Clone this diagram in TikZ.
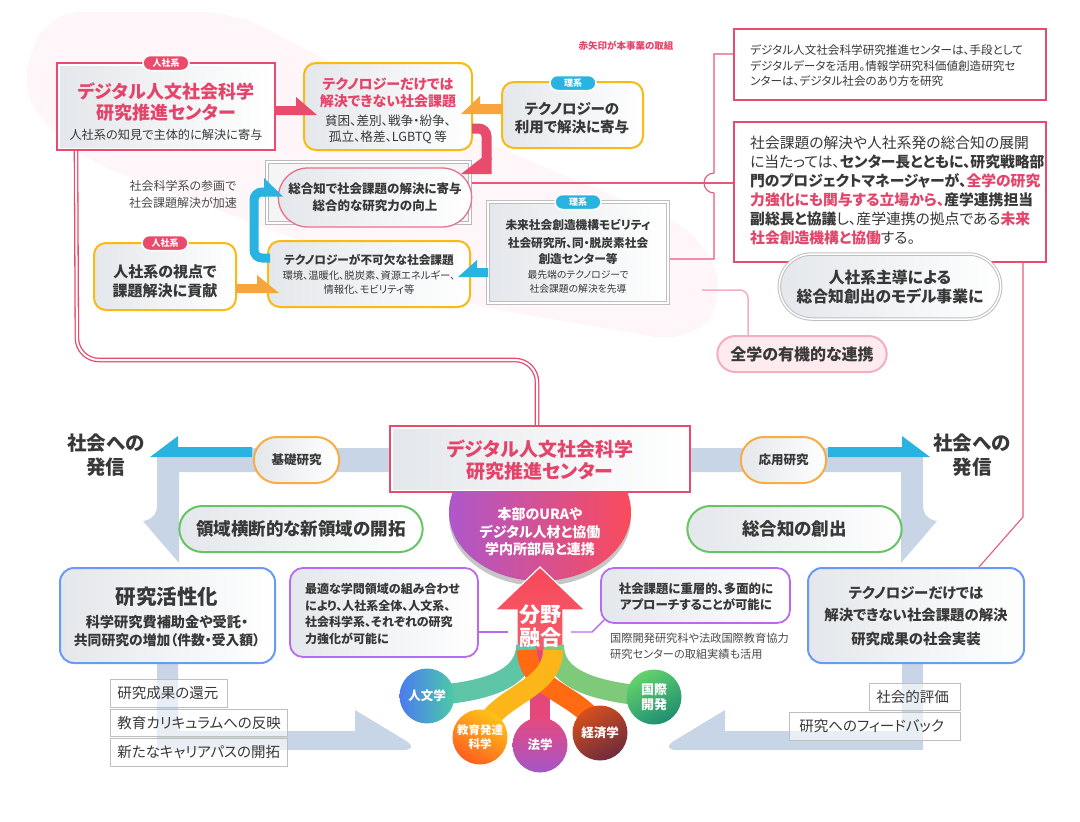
\documentclass[tikz,border=0pt]{standalone}
\usepackage{fontspec}
\setmainfont{Noto Sans CJK JP}[RawFeature=+palt]
\usetikzlibrary{calc,shapes.misc}
\definecolor{hred}{HTML}{E94B6C}
\definecolor{hredtxt}{HTML}{E5446A}
\definecolor{hyel}{HTML}{FBB913}
\definecolor{horg}{HTML}{F9A53E}
\definecolor{hblue}{HTML}{29B3E1}
\definecolor{hgreen}{HTML}{66C466}
\definecolor{hpurp}{HTML}{B86BF0}
\definecolor{hbbox}{HTML}{6A9BF4}
\definecolor{bandc}{HTML}{C8D5E6}
\definecolor{dtext}{HTML}{383838}
\definecolor{gtext}{HTML}{4A4A4A}
\definecolor{pinkln}{HTML}{E8577A}
\definecolor{paleln}{HTML}{F4AFBE}
\definecolor{gfill}{HTML}{E4E7EB}
\definecolor{swoosh}{HTML}{FEF6F8}
\definecolor{pillpink}{HTML}{FDEBEF}
\definecolor{opill}{HTML}{F7AC45}
\definecolor{nmag}{HTML}{AE57CB}
\definecolor{nred}{HTML}{FA4B5B}
\definecolor{ored}{HTML}{F9475A}
\definecolor{ored2}{HTML}{F2606C}
\definecolor{ribteal}{HTML}{5EC5A6}
\definecolor{ribgreen}{HTML}{7FC97A}
\definecolor{riborg}{HTML}{FF6A12}
\definecolor{ribyel}{HTML}{FDB61A}
\definecolor{ribpink}{HTML}{E4487A}
\definecolor{cjinA}{HTML}{4A7BF2}
\definecolor{cjinB}{HTML}{4CCBA5}
\definecolor{ckyoA}{HTML}{FF5E1F}
\definecolor{ckyoB}{HTML}{FFC318}
\definecolor{chouA}{HTML}{E64A7E}
\definecolor{chouB}{HTML}{A455C8}
\definecolor{ckeiA}{HTML}{D4501C}
\definecolor{ckeiB}{HTML}{6E2B3D}
\definecolor{ckokA}{HTML}{63D36C}
\definecolor{ckokB}{HTML}{1F8E72}
\newcommand\myfs[2]{\fontsize{#1}{#2}\selectfont}
\pgfdeclarelayer{back}
\pgfsetlayers{back,main}
\begin{document}
\begin{tikzpicture}[x=1pt,y=-1pt,
  txt/.style={inner sep=0pt, align=center, text=dtext},
  grad/.style={left color=gfill, right color=white},
  ybox/.style={draw=hyel, line width=2pt, rounded corners=12pt, grad},
  bbox/.style={draw=hbbox, line width=2pt, rounded corners=14pt, grad},
  pbox/.style={draw=hpurp, line width=1.8pt, rounded corners=13pt, grad},
  rbox/.style={draw=hred, line width=2pt, fill=white},
  gpill/.style={rounded rectangle, draw=hgreen, line width=2pt, grad, minimum height=46pt, font=\myfs{17.5}{18}\bfseries, text=dtext},
  opillst/.style={rounded rectangle, draw=opill, line width=2pt, grad, minimum height=46pt, minimum width=92pt, font=\myfs{12.5}{13}\bfseries, text=dtext},
  tagst/.style={rounded rectangle, draw=white, line width=1.5pt, text=white, font=\myfs{9}{9}\bfseries, minimum height=15pt, minimum width=46pt, inner sep=0pt},
  lbox/.style={draw=gray!50, line width=0.8pt, fill=white, fill opacity=0.6, text opacity=1, draw opacity=1, font=\myfs{14.5}{14.5}, text=dtext, inner xsep=7pt, anchor=west, align=left, minimum height=27.5pt},
  pl/.style={draw=pinkln, line width=1.1pt},
  purp/.style={draw=hpurp, line width=1.4pt},
  circ/.style={circle, minimum size=55pt, inner sep=0pt, text=white, font=\myfs{12.5}{14}\bfseries, align=center},
  rib/.style={line width=20pt, line cap=butt},
]
\useasboundingbox (0,0) rectangle (1080,822);

% ---------- background swoosh
\begin{pgfonlayer}{back}
\fill[swoosh, rounded corners=35pt] (18,95) -- (45,12) -- (235,12) -- (480,140) -- (700,232) -- (728,300) -- (690,343) -- (470,305) -- (80,158) -- cycle;
\end{pgfonlayer}

% ---------- grey bands and blue half arrows
\fill[bandc] (392,448) -- (252,448) -- (252,457) -- (157,457) [rounded corners=15pt] -- (157,521) [sharp corners] -- (143,521) -- (179,563) -- (179,472) -- (392,472) -- cycle;
\fill[bandc] (688,448) -- (828,448) -- (828,457) -- (923,457) [rounded corners=15pt] -- (923,521) [sharp corners] -- (937,521) -- (901,563) -- (901,472) -- (688,472) -- cycle;
\fill[hblue] (252,447) -- (178,447) -- (178,436) -- (150,457) -- (252,457) -- cycle;
\fill[hblue] (828,447) -- (902,447) -- (902,436) -- (930,457) -- (828,457) -- cycle;
\fill[bandc] (157,655) -- (157,750) [rounded corners=18pt] -- (421,750) [sharp corners] -- (355,710) -- (355,731) -- (178,731) -- (178,655) -- cycle;
\fill[bandc] (923,655) -- (923,750) [rounded corners=18pt] -- (659,750) [sharp corners] -- (725,710) -- (725,731) -- (902,731) -- (902,655) -- cycle;

% ---------- top-left red box
\node[rbox, minimum width=218pt, minimum height=87pt] (A) at (166,106.5) {};
\fill[grad] ($(A.south west)+(4,-4)$) rectangle ($(A.north east)+(-4,4)$);
\node[txt, font=\myfs{18}{18}\bfseries, text=hredtxt] (At1) at (166,91) {デジタル人文社会科学};
\node[txt, font=\myfs{18}{18}\bfseries, text=hredtxt] (At2) at (166,113) {研究推進センター};
\node[txt, font=\myfs{12.2}{12}] (At3) at (166,135) {人社系の知見で主体的に解決に寄与};
\node[tagst, fill=hred] (Atag) at (166,63) {人社系};

% ---------- yellow box B
\node[ybox, minimum width=168pt, minimum height=87pt] (B) at (388,106.5) {};
\node[txt, font=\myfs{14}{14}\bfseries, text=hredtxt] (Bt1) at (388,84) {テクノロジーだけでは};
\node[txt, font=\myfs{14}{14}\bfseries, text=hredtxt] (Bt2) at (388,101) {解決できない社会課題};
\node[txt, font=\myfs{12.6}{13}] (Bt3) at (388,121) {貧困、差別、戦争・紛争、};
\node[txt, font=\myfs{12.6}{13}] (Bt4) at (388,137) {孤立、格差、LGBTQ 等};

% ---------- yellow box C
\node[ybox, minimum width=141pt, minimum height=66pt] (C) at (572.5,115) {};
\node[txt, font=\myfs{14.5}{15}\bfseries] (Ct1) at (572,109) {テクノロジーの};
\node[txt, font=\myfs{14.5}{15}\bfseries] (Ct2) at (572,127) {利用で解決に寄与};
\node[tagst, fill=hblue] (Ctag) at (573,83) {理系};

% ---------- D
\node[draw=gray!55, line width=1pt, double=white, double distance=1.2pt, fill=gray!8, minimum width=203pt, minimum height=61pt] (D) at (368.5,192.5) {};
\node[rounded rectangle, draw=pinkln!85, line width=1.3pt, grad, minimum width=200pt, minimum height=59pt] (Dp) at (375,197.5) {};
\node[txt, font=\myfs{12.5}{13}\bfseries] (Dt1) at (375,189) {総合知で社会課題の解決に寄与};
\node[txt, font=\myfs{12.5}{13}\bfseries] (Dt2) at (375,206) {総合的な研究力の向上};

\node[txt, font=\myfs{12}{17}, text=gtext] (Et) at (183,194.5) {社会科学系の参画で\\社会課題解決が加速};

% ---------- F
\node[ybox, minimum width=202pt, minimum height=66pt] (F) at (369,274) {};
\node[txt, font=\myfs{11.7}{12}\bfseries] (Ft1) at (369,260) {テクノロジーが不可欠な社会課題};
\node[txt, font=\myfs{10.3}{10}] (Ft2) at (369,276) {環境、温暖化、脱炭素、資源エネルギー、};
\node[txt, font=\myfs{10.3}{10}] (Ft3) at (369,290) {情報化、モビリティ等};

% ---------- G
\node[ybox, minimum width=142pt, minimum height=67pt] (G) at (165,276.5) {};
\node[txt, font=\myfs{15}{15}\bfseries] (Gt1) at (165,272) {人社系の視点で};
\node[txt, font=\myfs{15}{15}\bfseries] (Gt2) at (165,291) {課題解決に貢献};
\node[tagst, fill=hred] (Gtag) at (165,243) {人社系};

% ---------- H
\node[draw=gray!50, line width=1pt, double=white, double distance=1.2pt, grad, minimum width=180pt, minimum height=101pt] (H) at (578,252.5) {};
\node[txt, font=\myfs{11.7}{12}\bfseries] (Ht1) at (578,225) {未来社会創造機構モビリティ};
\node[txt, font=\myfs{11.7}{12}\bfseries] (Ht2) at (578,243) {社会研究所、同・脱炭素社会};
\node[txt, font=\myfs{11.7}{12}\bfseries] (Ht3) at (578,259) {創造センター等};
\node[txt, font=\myfs{9.8}{10}] (Ht4) at (578,275) {最先端のテクノロジーで};
\node[txt, font=\myfs{9.8}{10}] (Ht5) at (578,289) {社会課題の解決を先導};
\node[tagst, fill=hblue] (Htag) at (578,202) {理系};

% ---------- right column
\node[txt, font=\myfs{9.5}{10}\bfseries, text=hredtxt] (Rn) at (626,46) {赤矢印が本事業の取組};
\node[rbox, minimum width=312pt, minimum height=71pt] (I) at (890,64.5) {};
\node[txt, anchor=west, align=left, font=\myfs{11.6}{15.5}] (It) at (750,66) {デジタル人文社会科学研究推進センターは、手段として\\デジタルデータを活用。情報学研究科価値創造研究セ\\ンターは、デジタル社会のあり方を研究};
\node[rbox, minimum width=312pt, minimum height=140pt] (J) at (890,192) {};
\node[txt, anchor=west, align=left, font=\myfs{14.8}{19}] (Jt) at (750,190.5) {社会課題の解決や人社系発の総合知の展開\\に当たっては、{\bfseries センター長とともに、研究戦略部}\\{\bfseries 門のプロジェクトマネージャーが、\color{hredtxt}全学の研究}\\{\bfseries\color{hredtxt}力強化にも関与する立場から、\color{dtext}産学連携担当}\\{\bfseries 副総長と協議}し、産学連携の拠点である{\bfseries\color{hredtxt}未来}\\{\bfseries\color{hredtxt}社会創造機構と協働}する。};
\node[rounded rectangle, draw=gray!50, line width=1pt, double=white, double distance=1.5pt, grad, minimum width=228pt, minimum height=65pt] (K) at (890,286.5) {};
\node[txt, font=\myfs{15.8}{19}\bfseries] (Kt) at (890,287) {人社系主導による\\総合知創出のモデル事業に};
\node[rounded rectangle, draw=paleln, line width=2pt, fill=pillpink, minimum width=176pt, minimum height=36pt, font=\myfs{16}{16}\bfseries, text=dtext] (L) at (802,354) {全学の有機的な連携};

% ---------- center box M
\node[rbox, minimum width=300pt, minimum height=66pt] (M) at (540,459) {};
\fill[grad] ($(M.south west)+(4,-4)$) rectangle ($(M.north east)+(-4,4)$);
\node[txt, font=\myfs{19}{19}\bfseries, text=hredtxt] (Mt1) at (540,449) {デジタル人文社会科学};
\node[txt, font=\myfs{19}{19}\bfseries, text=hredtxt] (Mt2) at (540,471) {研究推進センター};

% ---------- pills on bands
\node[opillst] (Kiso) at (296.5,460) {基礎研究};
\node[opillst] (Oyo) at (783.5,460) {応用研究};
\node[txt, font=\myfs{19.5}{24}\bfseries] (Hl) at (106,455) {社会への\\発信};
\node[txt, font=\myfs{19.5}{24}\bfseries] (Hr) at (972,455) {社会への\\発信};
\node[gpill, minimum width=250pt] (Ryo) at (301,529) {領域横断的な新領域の開拓};
\node[gpill, minimum width=221pt] (Sou) at (794.5,529) {総合知の創出};

% ---------- magenta bowl N
\begin{scope}
\clip (430,492) rectangle (650,600);
\fill[gray!45] (540,517) ellipse [x radius=91, y radius=69];
\shade[left color=nmag, right color=nred] (540,512) ellipse [x radius=91, y radius=69];
\end{scope}
\node[txt, text=white, font=\myfs{14}{17.5}\bfseries] (Nt) at (540,532) {本部のURAや\\デジタル人材と協働\\学内所部局と連携};

% ---------- up arrow and ribbons
\shade[top color=ored, bottom color=ored2, draw=white, line width=1.2pt] (540,567) -- (585,610) -- (563,610) -- (563,655) -- (517,655) -- (517,610) -- (495,610) -- cycle;
\draw[rib, ribgreen] (654,697) .. controls (600,692) and (554,682) .. (554,645);
\draw[rib, ribteal] (427,696) .. controls (480,692) and (526,682) .. (526,645);
\draw[rib, ribpink] (540,650) -- (540,745);
\draw[rib, riborg] (600,733) .. controls (588,695) and (527,692) .. (527,650);
\draw[rib, ribyel] (480,737) .. controls (492,695) and (553,692) .. (553,650);
\node[txt, text=white, font=\myfs{21}{23}\bfseries] (Ot) at (540,626) {分野\\融合};

\node[circ, left color=cjinA, right color=cjinB] (Jin) at (427,696) {人文学};
\node[circ, top color=ckyoB, bottom color=ckyoA, shading angle=-30, font=\myfs{11.5}{14}\bfseries] (Kyo) at (480,737) {教育発達\\科学};
\node[circ, top color=chouA, bottom color=chouB] (Hou) at (540,745) {法学};
\node[circ, top color=ckeiA, bottom color=ckeiB, shading angle=30] (Kei) at (600,733) {経済学};
\node[circ, top color=ckokA, bottom color=ckokB, shading angle=30, font=\myfs{13}{15}\bfseries] (Kok) at (654,697) {国際\\開発};

% ---------- purple boxes
\node[pbox, minimum width=188pt, minimum height=89pt] (P1) at (384,612.5) {};
\node[txt, anchor=west, align=left, font=\myfs{12}{16.7}\bfseries] (P1t) at (305,614) {最適な学問領域の組み合わせ\\により、人社系全体、人文系、\\社会科学系、それぞれの研究\\力強化が可能に};
\node[pbox, minimum width=189pt, minimum height=55pt] (P2) at (695.5,595.5) {};
\node[txt, font=\myfs{12.4}{16}\bfseries] (P2t) at (696,597) {社会課題に重層的、多面的に\\アプローチすることが可能に};
\node[txt, anchor=west, align=left, font=\myfs{11.2}{16}, text=gtext] (Pn) at (610,646) {国際開発研究科や法政国際教育協力\\研究センターの取組実績も活用};

% ---------- blue boxes
\node[bbox, minimum width=215pt, minimum height=95pt] (Q1) at (167.5,615.5) {};
\node[txt, font=\myfs{20.5}{20}\bfseries] (Q1t1) at (167,597) {研究活性化};
\node[txt, font=\myfs{14.2}{14}\bfseries] (Q1t2) at (167,622) {科学研究費補助金や受託・};
\node[txt, font=\myfs{13.8}{14}\bfseries] (Q1t3) at (167,640) {共同研究の増加（件数・受入額）};
\node[bbox, minimum width=216pt, minimum height=95pt] (Q2) at (916,615.5) {};
\node[txt, font=\myfs{14.4}{14}\bfseries] (Q2t1) at (916,593) {テクノロジーだけでは};
\node[txt, font=\myfs{14.4}{14}\bfseries] (Q2t2) at (916,615) {解決できない社会課題の解決};
\node[txt, font=\myfs{14.4}{14}\bfseries] (Q2t3) at (916,639) {研究成果の社会実装};

% ---------- label boxes
\node[lbox, text width=103pt] (LB1) at (110,693.5) {研究成果の還元};
\node[lbox, text width=163pt] (LB2) at (110,723) {教育カリキュラムへの反映};
\node[lbox, text width=163pt] (LB3) at (110,752.5) {新たなキャリアパスの開拓};
\node[lbox, text width=77pt] (RB1) at (869,697) {社会的評価};
\node[lbox, inner xsep=10pt, text width=151pt] (RB2) at (789,726.5) {研究へのフィードバック};

% ---------- thick half arrows
\fill[hred] (275,106) -- (296,106) -- (296,97) -- (317,115) -- (275,115) -- cycle;
\fill[horg] (502,104) -- (480,104) -- (480,96) -- (461,114) -- (502,114) -- cycle;
\draw[hred, line width=10pt, rounded corners=8pt] (472,128.5) -- (486.5,128.5) -- (486.5,160);
\fill[hred] (491.5,158) -- (491.5,174) -- (461,174) -- (481.5,158) -- cycle;
\draw[hblue, line width=9pt, rounded corners=8pt] (270,258) -- (254,258) -- (254,192) -- (266,192);
\fill[hblue] (264,187.5) -- (264,178) -- (283,196.5) -- (264,196.5) -- cycle;
\fill[horg] (236,284) -- (257,284) -- (257,275) -- (279,293) -- (236,293) -- cycle;
\fill[hblue] (488,268) -- (477,268) -- (477,260) -- (458,277) -- (488,277) -- cycle;

% ---------- connectors
\begin{pgfonlayer}{back}
\draw[draw=hred, line width=1.3pt, double=white, double distance=2pt, rounded corners=22pt] ($(A.south west)+(20,0)$) -- (77,360) -- (537,360) -- ($(M.north)+(-3,0)$);
\coordinate (hc) at ($(Ht3.east)+(5,0)$);
\draw[pl] (hc) -- (hc -| 714,0) -- (714,193) arc(90:270:10) -- (714,54) -- (I.west |- 0,54);
\draw[pl] ($(Dp.east)+(-10,-14.5)$) -- (J.west |- 0,183);
\coordinate (jv) at ($(J.south east)+(-24,0)$);
\draw[pl] (jv) -- (jv |- 0,517) -- ($(Q2.north east)+(-46,0)$);
\coordinate (lc) at (702,290);
\draw[paleln, line width=1.5pt, rounded corners=8pt] (lc) -| ($(L.north)+(-54,0)$);
\coordinate (pa) at (508,632);
\draw[purp] (P1.east |- pa) -- (pa);
\coordinate (pb) at (571,632);
\draw[purp] ($(P2.south west)+(4,-4)$) -- (592,632) -- (pb);
\end{pgfonlayer}
\end{tikzpicture}
\end{document}
